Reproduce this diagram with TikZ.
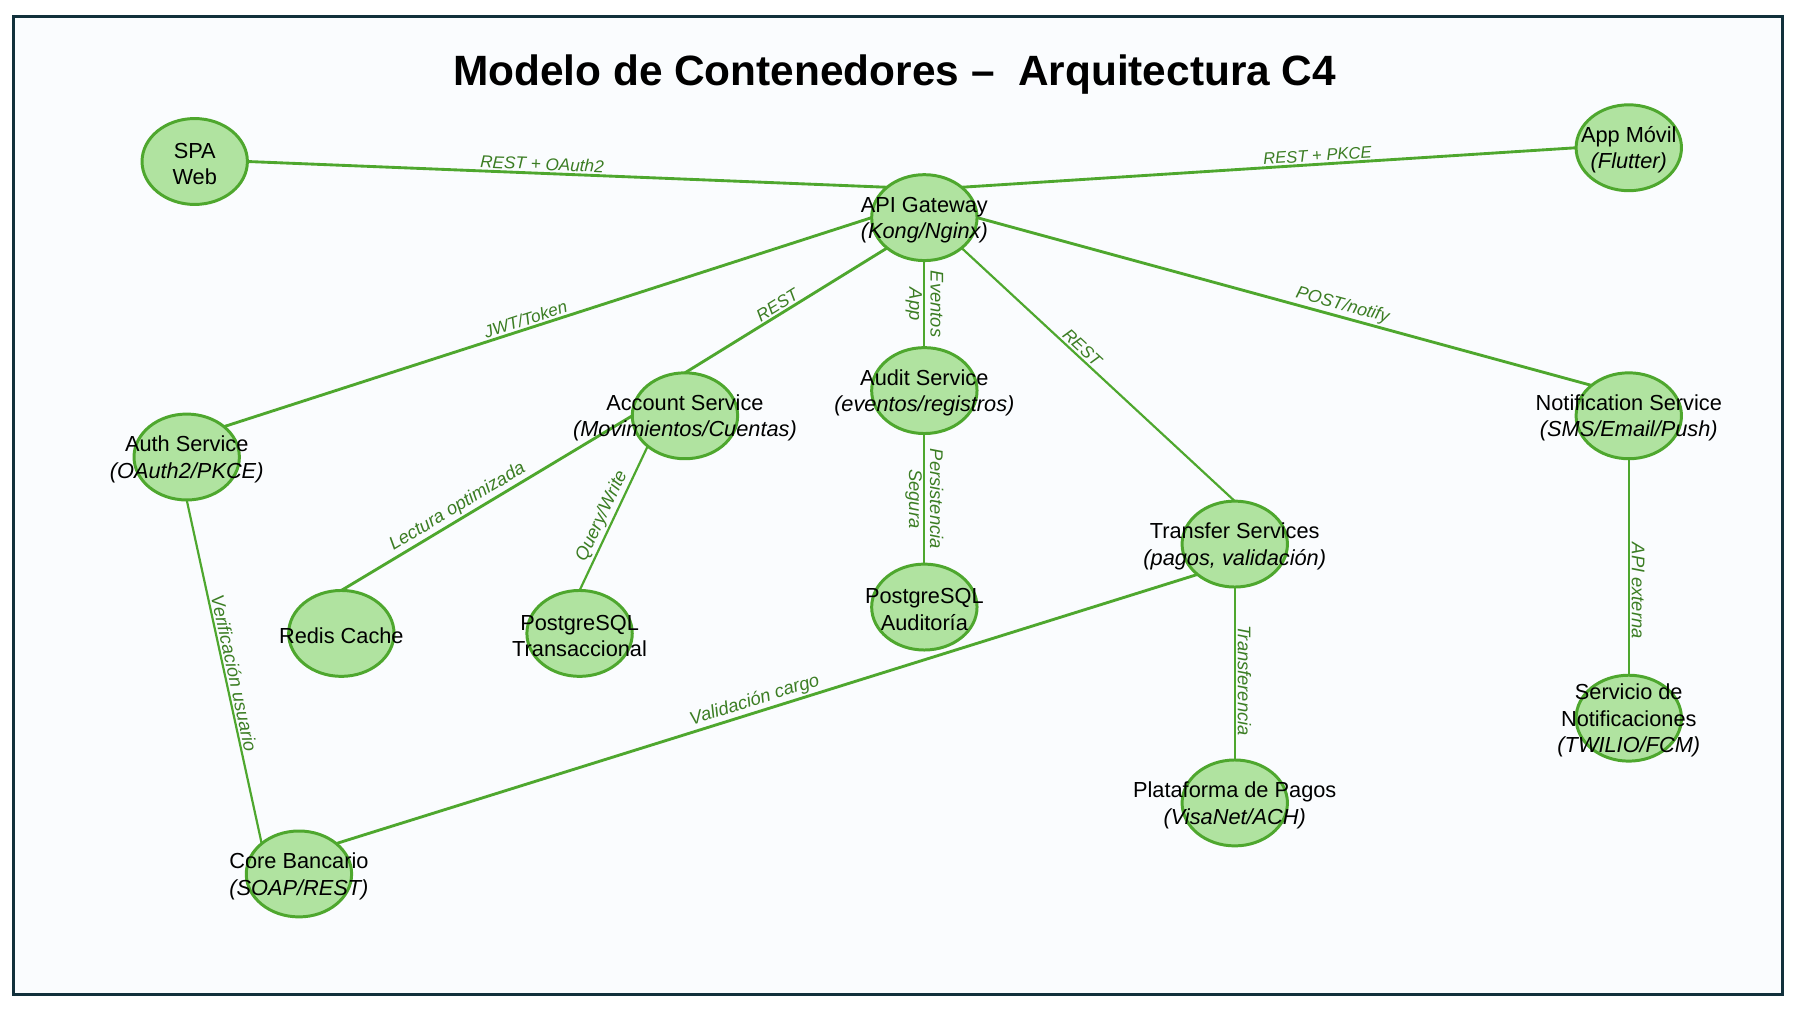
\documentclass[tikz,border=0pt]{standalone}
\usepackage{fontspec}
\setmainfont{Liberation Sans}
\usetikzlibrary{shapes.geometric}
\definecolor{gline}{HTML}{4EA72E}
\definecolor{gfill}{HTML}{B0E3A0}
\definecolor{glbl}{HTML}{3B7D23}
\definecolor{framec}{HTML}{11303B}
\definecolor{bgin}{HTML}{FAFCFE}
\begin{document}
\begin{tikzpicture}[x=1pt,y=-1pt,
  circ/.style={ellipse, draw=gline, fill=gfill, line width=2.6pt, minimum width=92pt, minimum height=75pt, inner sep=0pt, outer sep=0pt},
  txt/.style={align=center, font=\fontsize{19}{23}\selectfont, text=black, inner sep=0pt, yshift=-2pt},
  conn/.style={draw=gline, line width=2.5pt},
  connthin/.style={draw=gline, line width=1.9pt},
  lbl/.style={font=\fontsize{15}{17.5}\selectfont\itshape, text=glbl, inner sep=1.5pt, align=center},
  lblb/.style={lbl, font=\fontsize{16}{18.5}\selectfont\itshape},
  ttl/.style={font=\fontsize{37}{42}\selectfont\bfseries, text=black, inner sep=0pt}
]
\useasboundingbox (0,0) rectangle (1568,882.6);
\fill[white] (0,0) rectangle (1568,882.6);
\draw[draw=framec, line width=2.6pt, fill=bgin] (12,14) rectangle (1556,868);

\node[ttl] (title) at (781,65) {Modelo de Contenedores –\ \ Arquitectura C4};

% ellipses
\node[circ] (spa)   at (170,141) {};
\node[circ] (api)   at (807,190) {};
\node[circ] (app)   at (1422,129) {};
\node[circ] (auth)  at (163,399) {};
\node[circ] (acc)   at (598,363) {};
\node[circ] (aud)   at (807,341) {};
\node[circ] (redis) at (298,553) {};
\node[circ] (pgt)   at (506,553) {};
\node[circ] (pga)   at (807,530) {};
\node[circ] (trf)   at (1078,475) {};
\node[circ] (ntf)   at (1422,363) {};
\node[circ] (sdn)   at (1422,627) {};
\node[circ] (plt)   at (1078,701) {};
\node[circ] (core)  at (261,763) {};

% connectors
\draw[conn] (spa.east) -- node[lbl, pos=0.46, above, sloped] {REST + OAuth2} (api.north west);
\draw[conn] (api.north east) -- node[lbl, pos=0.58, above, sloped, font=\fontsize{14.5}{17}\selectfont\itshape] {REST + PKCE} (app.west);
\draw[conn] (api.west) -- node[lbl, pos=0.53, above, sloped] {JWT/Token} (auth.north east);
\draw[conn] (api.south west) -- node[lbl, pos=0.52, above, sloped] {REST} (acc.north);
\draw[connthin] (api.south) -- node[lblb, midway, rotate=-90] {Eventos\\App} (aud.north);
\draw[connthin] (aud.south) -- node[lblb, midway, rotate=-90] {Persistencia\\Segura} (pga.north);
\draw[connthin] (api.south east) -- node[lbl, pos=0.42, above, sloped] {REST} (trf.north);
\draw[conn] (api.east) -- node[lbl, pos=0.59, above, sloped, font=\fontsize{15.5}{18}\selectfont\itshape] {POST/notify} (ntf.north west);
\draw[conn] (acc.west) -- node[lblb, pos=0.58, above, sloped] {Lectura optimizada} (redis.north);
\draw[connthin] (acc.south west) -- node[lblb, pos=0.52, above, sloped] {Query/Write} (pgt.north);
\draw[connthin] (auth.south) -- node[lblb, pos=0.51, above, sloped] {Verificación usuario} (core.north west);
\draw[conn] (trf.south west) -- node[lblb, pos=0.51, above, sloped] {Validación cargo} (core.north east);
\draw[connthin] (trf.south) -- node[lblb, pos=0.54, above, rotate=-90] {Transferencia} (plt.north);
\draw[connthin] (ntf.south) -- node[lblb, pos=0.61, above, rotate=-90] {API externa} (sdn.north);

% texts
\node[txt] (tspa)   at (spa)   {SPA\\Web};
\node[txt] (tapi)   at (api)   {API Gateway\\\textit{(Kong/Nginx)}};
\node[txt] (tapp)   at (app)   {App Móvil\\\textit{(Flutter)}};
\node[txt] (tauth)  at (auth)  {Auth Service\\\textit{(OAuth2/PKCE)}};
\node[txt] (tacc)   at (acc)   {Account Service\\\textit{(Movimientos/Cuentas)}};
\node[txt] (taud)   at (aud)   {Audit Service\\\textit{(eventos/registros)}};
\node[txt] (tredis) at (redis) {Redis Cache};
\node[txt] (tpgt)   at (pgt)   {PostgreSQL\\Transaccional};
\node[txt] (tpga)   at (pga)   {PostgreSQL\\Auditoría};
\node[txt] (ttrf)   at (trf)   {Transfer Services\\\textit{(pagos, validación)}};
\node[txt] (tntf)   at (ntf)   {Notification Service\\\textit{(SMS/Email/Push)}};
\node[txt] (tsdn)   at (sdn)   {Servicio de\\Notificaciones\\\textit{(TWILIO/FCM)}};
\node[txt] (tplt)   at (plt)   {Plataforma de Pagos\\\textit{(VisaNet/ACH)}};
\node[txt] (tcore)  at (core)  {Core Bancario\\\textit{(SOAP/REST)}};
\end{tikzpicture}
\end{document}
